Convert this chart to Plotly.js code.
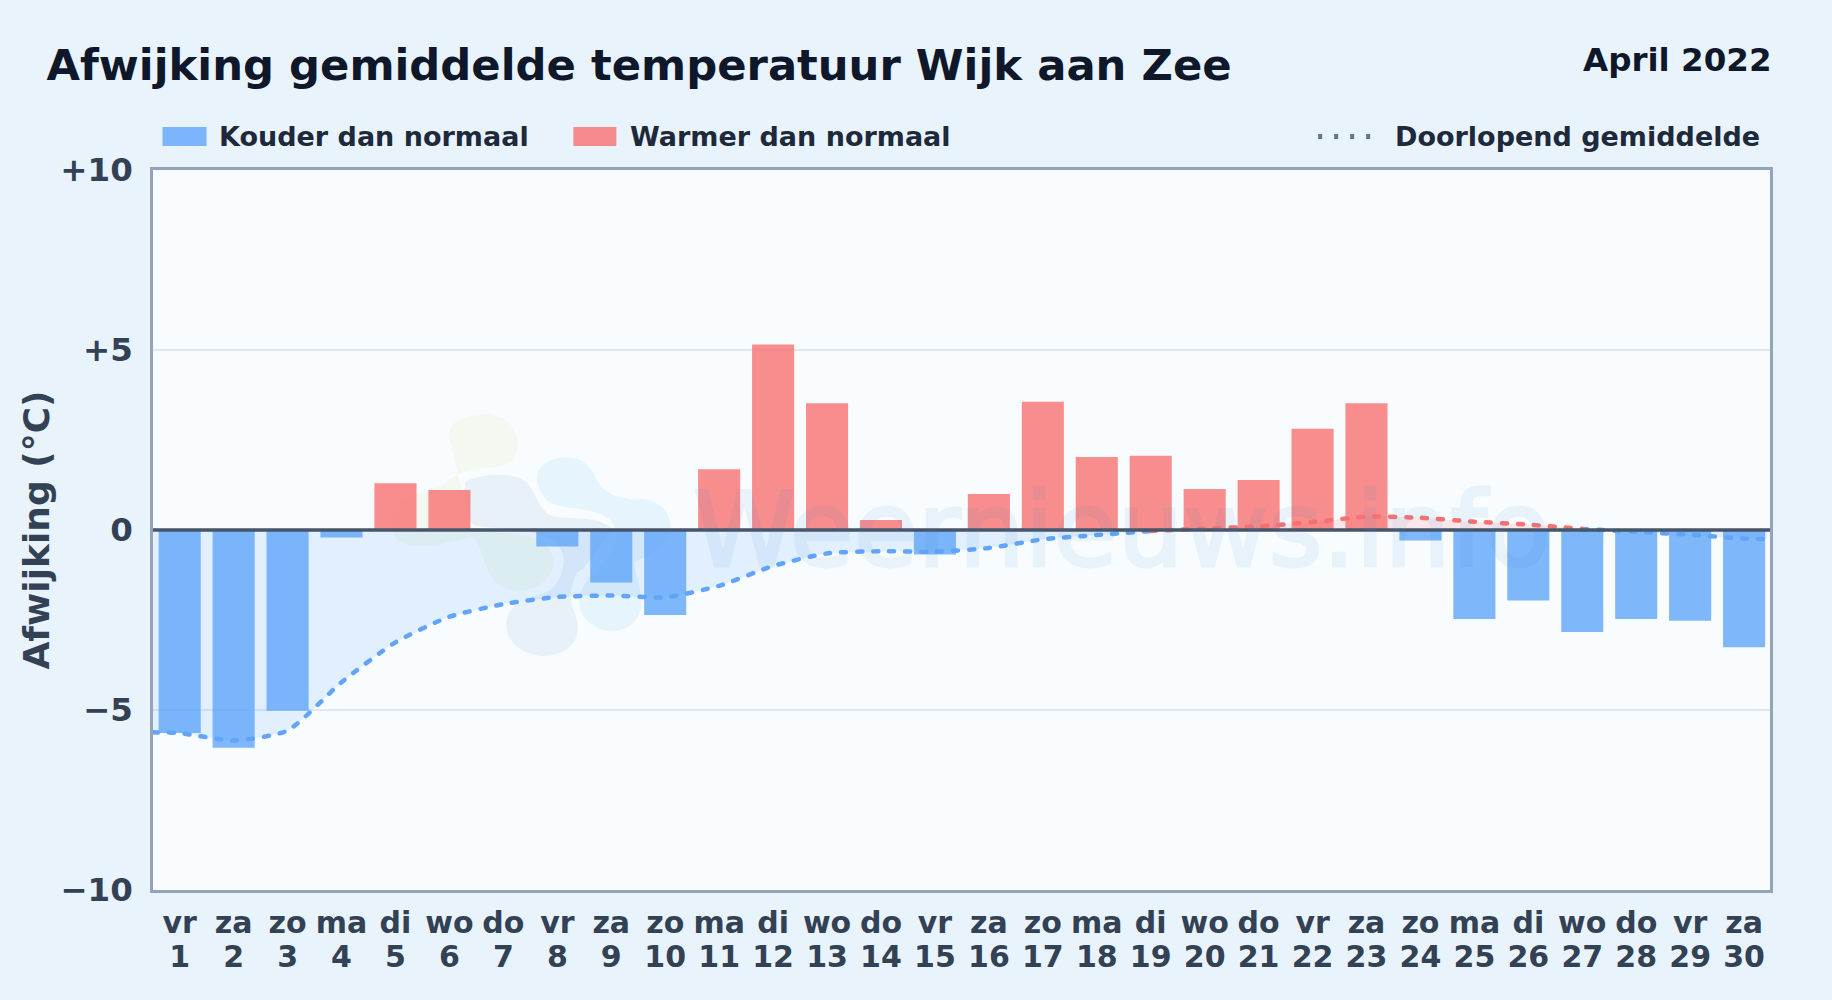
<!DOCTYPE html>
<html>
<head>
<meta charset="utf-8">
<script src="https://cdn.plot.ly/plotly-3.0.1.min.js"></script>
<style>
html,body{margin:0;padding:0;width:1832px;height:1000px;overflow:hidden;background:linear-gradient(135deg,#e8f3fc,#e9f3fb);}
#chart{width:1832px;height:1000px;}
.scatterlayer .js-line{stroke-linecap:round !important;}
.annotation[data-index="0"] text{stroke:rgb(60,140,210);stroke-width:3px;}
</style>
</head>
<body>
<div id="chart"></div>
<script>
const days = [1,2,3,4,5,6,7,8,9,10,11,12,13,14,15,16,17,18,19,20,21,22,23,24,25,26,27,28,29,30];
const weekdays = ["vr","za","zo","ma","di","wo","do","vr","za","zo","ma","di","wo","do","vr","za","zo","ma","di","wo","do","vr","za","zo","ma","di","wo","do","vr","za"];
const coldBars = [-5.64,-6.05,-5.02,-0.21,null,null,null,-0.46,-1.46,-2.36,null,null,null,null,-0.68,null,null,null,null,null,null,null,null,-0.29,-2.47,-1.96,-2.83,-2.47,-2.52,-3.26];
const warmBars = [null,null,null,null,1.30,1.11,null,null,null,null,1.69,5.15,3.52,0.28,null,1.00,3.56,2.03,2.06,1.14,1.39,2.81,3.52,null,null,null,null,null,null,null];
const lineX = [0.5,1,2,3,4,5,6,7,8,9,10,11,12,13,14,15,16,17,18,19,20,21,22,23,24,25,26,27,28,29,30,30.42];
const runningCold = [-5.62,-5.64,-5.85,-5.57,-4.23,-3.12,-2.41,-2.06,-1.86,-1.82,-1.87,-1.55,-1.0,-0.65,-0.59,-0.6,-0.5,-0.26,-0.14,-0.03,null,null,null,null,null,null,null,0.03,-0.05,-0.13,-0.24,-0.25];
const runningWarm = [null,null,null,null,null,null,null,null,null,null,null,null,null,null,null,null,null,null,null,-0.03,0.04,0.1,0.22,0.37,0.34,0.23,0.15,0.03,null,null,null,null];
const yTickVals = [-10,-5,0,5,10];
const yTickText = ["−10","−5","0","+5","+10"];
const titleText = "Afwijking gemiddelde temperatuur Wijk aan Zee";
const periodText = "April 2022";
const legendCold = "Kouder dan normaal";
const legendWarm = "Warmer dan normaal";
const legendRun = "Doorlopend gemiddelde";
const yTitle = "Afwijking (°C)";
const watermark = "Weernieuws.info";

const W = 1832, H = 1000;
const M = {l:152.5, r:62, t:170, b:110};
const px = v => (v - M.l) / (W - M.l - M.r);
const py = v => (H - M.b - v) / (H - M.t - M.b);
const FONT = '"DejaVu Sans", sans-serif';
const BLUE = '#60a5fa', RED = '#f87171';

// logo blobs, drawn in page pixels (origin 370,400 at 3x) and converted to paper fractions
function blob(d) {
  return d.replace(/(-?[\d.]+),(-?[\d.]+)/g, (m, a, b) =>
    px(370 + a / 3).toFixed(5) + ',' + py(400 + b / 3).toFixed(5));
}
const blobA = 'M235,105 C235,60 300,40 350,42 C410,45 445,90 442,135 C440,175 420,195 380,200 C310,205 260,215 235,240 C200,275 140,270 100,300 C50,340 50,410 100,432 C160,450 260,420 310,410 C340,450 340,510 380,550 C420,585 500,575 535,530 C565,490 545,440 505,420 C440,395 350,400 300,380 Z';
const blobB = 'M285,245 C320,225 410,212 460,240 C490,260 490,300 530,340 C570,370 660,335 725,385 C700,420 660,490 620,520 C600,550 600,590 605,620 C620,650 622,670 622,690 C620,745 560,770 515,768 C450,765 405,720 408,670 C410,620 450,600 520,580 C560,565 580,520 580,480 C580,440 540,410 480,395 C400,380 340,385 310,375 C280,350 280,270 285,245 Z';
const blobC = 'M500,230 C505,190 550,170 595,172 C640,175 665,205 680,240 C700,285 760,300 810,298 C860,298 900,330 902,385 L902,400 C880,450 820,470 790,490 C800,530 815,570 812,620 C805,670 760,695 720,692 C665,690 625,650 627,600 C628,560 660,530 700,490 C740,450 750,390 720,360 C670,315 570,335 530,300 C510,280 498,255 500,230 Z';

const lineTrace = (y, color, fill, name) => ({
  type: 'scatter', mode: 'lines', x: lineX, y: y, name: name, showlegend: false,
  connectgaps: false, hoverinfo: 'skip',
  line: {color: color, width: 4.5, dash: '5px,11px', shape: 'spline', smoothing: 0.6},
  fill: 'tozeroy', fillcolor: fill
});

const traces = [
  {type:'bar', x: days, y: coldBars, name: legendCold, width: 0.78, marker:{color:BLUE, opacity:0.8, line:{width:0}}, showlegend:false},
  {type:'bar', x: days, y: warmBars, name: legendWarm, width: 0.78, marker:{color:RED, opacity:0.8, line:{width:0}}, showlegend:false},
  lineTrace(runningCold, BLUE, 'rgba(96,165,250,0.15)', legendRun),
  lineTrace(runningWarm, RED, 'rgba(248,113,113,0.15)', legendRun + ' (warm)')
];

const legendText = (text, x) => ({
  text: text, xref:'paper', yref:'paper', x: px(x), y: py(136.5), xanchor:'left', yanchor:'middle',
  showarrow:false, font:{family:FONT, size:27, color:'#1e293b', weight:700}
});
const swatch = (x0, x1, color) => ({
  type:'rect', xref:'paper', yref:'paper', x0:px(x0), x1:px(x1), y0:py(146), y1:py(127),
  fillcolor:color, opacity:0.8, line:{width:0}, layer:'above'
});

const layout = {
  width: W, height: H,
  paper_bgcolor:'rgba(0,0,0,0)', plot_bgcolor:'#f8fcff',
  margin:{l:M.l, r:M.r, t:M.t, b:M.b, pad:0},
  barmode:'overlay', bargap:0.22,
  showlegend:false,
  font:{family:FONT},
  title:{text:titleText, x:46.5/W, xref:'container', xanchor:'left', yref:'container', y:1-65/H, yanchor:'middle',
         font:{family:FONT, size:43.3, color:'#0f172a', weight:700}},
  xaxis:{
    range:[0.505,30.48], tickmode:'array', tickvals:days,
    ticktext:days.map((d,i)=>weekdays[i]+'<br>'+d),
    tickangle:0, showgrid:false, zeroline:false,
    ticks:'outside', ticklen:4, tickcolor:'rgba(0,0,0,0)',
    showline:true, linecolor:'#94a3b8', linewidth:2.7, mirror:true,
    tickfont:{family:FONT, size:30, color:'#334155', weight:700}
  },
  yaxis:{
    range:[-10,10], tickmode:'array', tickvals:yTickVals, ticktext:yTickText,
    showgrid:true, gridcolor:'#e2e8f0', gridwidth:2, zeroline:false,
    ticks:'outside', ticklen:11, tickcolor:'rgba(0,0,0,0)',
    showline:true, linecolor:'#94a3b8', linewidth:2.7, mirror:true,
    tickfont:{family:FONT, size:32.5, color:'#334155', weight:700},
    title:{text:yTitle, standoff:0, font:{family:FONT, size:36, color:'#334155', weight:700}}
  },
  shapes:[
    {type:'path', xref:'paper', yref:'paper', path:blob(blobA), fillcolor:'#f3f9f1', line:{width:0}, layer:'below'},
    {type:'path', xref:'paper', yref:'paper', path:blob(blobB), fillcolor:'#e8f0f8', line:{width:0}, layer:'below'},
    {type:'path', xref:'paper', yref:'paper', path:blob(blobC), fillcolor:'#e6f4fd', line:{width:0}, layer:'below'},
    {type:'line', xref:'paper', yref:'y', x0:0, x1:1, y0:0, y1:0, line:{color:'#475569', width:3.7}, layer:'above'},
    swatch(162,206,BLUE),
    swatch(573,616,RED),
    {type:'line', xref:'paper', yref:'paper', x0:px(1318), x1:px(1376), y0:py(136.5), y1:py(136.5),
     line:{color:'#64748b', width:5, dash:'4px,12px'}, layer:'above'}
  ],
  annotations:[
    {text:watermark, xref:'paper', yref:'paper', x:px(1122), y:py(530), xanchor:'center', yanchor:'middle',
     showarrow:false, opacity:0.08, font:{family:FONT, size:104, color:'rgb(60,140,210)', weight:400}},
    {text:periodText, xref:'paper', yref:'paper', x:px(1774.5), y:py(60), xanchor:'right', yanchor:'middle',
     showarrow:false, font:{family:FONT, size:32.5, color:'#0f172a', weight:700}},
    legendText(legendCold,217),
    legendText(legendWarm,628),
    legendText(legendRun,1393)
  ]
};
Plotly.newPlot('chart', traces, layout, {displayModeBar:false, staticPlot:true}).then(() => {
  document.querySelectorAll('.xtick text').forEach(t => {
    const lines = t.querySelectorAll('tspan.line');
    if (lines[1]) lines[1].setAttribute('dy', '1.13em');
  });
});
</script>
</body>
</html>
